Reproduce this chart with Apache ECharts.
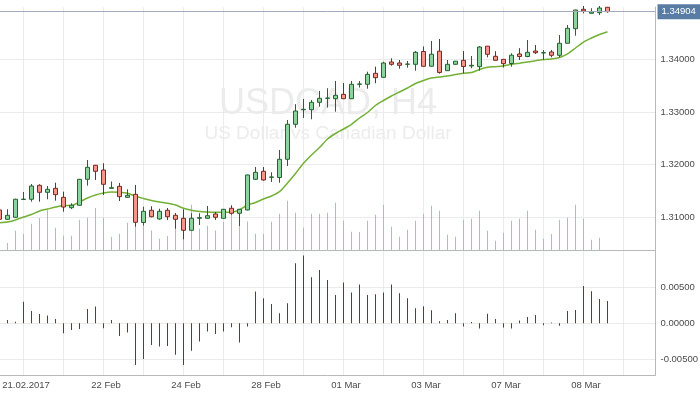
<!DOCTYPE html>
<html><head><meta charset="utf-8">
<script src="https://cdn.jsdelivr.net/npm/echarts@6/dist/echarts.min.js"></script>
<style>html,body{margin:0;padding:0;background:#fff}#c{width:700px;height:394px}</style>
</head><body><div id="c"></div>
<script>
// ---- data (USDCAD H4) ----
const opens = [1.31141,1.30964,1.31002,1.31340,1.31344,1.31609,1.31476,1.31552,1.31381,1.31184,
1.31230,1.31723,1.31989,1.31899,1.31552,1.31590,1.31381,1.31438,1.30904,1.31135,
1.30970,1.31135,1.31040,1.30983,1.30755,1.30983,1.30983,1.31065,1.30983,1.31173,
1.31078,1.31141,1.31723,1.31875,1.31761,1.31757,1.32103,1.32767,1.33044,1.33044,
1.33184,1.33260,1.33252,1.33336,1.33252,1.33526,1.33526,1.33734,1.33658,1.33949,
1.33930,1.33905,1.33905,1.34148,1.33869,1.34154,1.33784,1.33905,1.33981,1.33873,
1.33860,1.34249,1.34057,1.34000,1.33920,1.34101,1.34053,1.34157,1.34120,1.34139,
1.34076,1.34304,1.34581,1.34949,1.34873,1.34884,1.34987];
const closes = [1.30964,1.31040,1.31344,1.31346,1.31596,1.31476,1.31533,1.31431,1.31197,1.31230,
1.31723,1.31951,1.31875,1.31628,1.31564,1.31393,1.31419,1.30907,1.31116,1.31013,
1.31116,1.31013,1.30964,1.30755,1.30983,1.30995,1.31032,1.31002,1.31154,1.31078,
1.31154,1.31805,1.31856,1.31710,1.31767,1.32103,1.32767,1.33019,1.33051,1.33184,
1.33260,1.33265,1.33317,1.33252,1.33526,1.33532,1.33715,1.33651,1.33930,1.33905,
1.33886,1.33910,1.34133,1.33867,1.34097,1.33750,1.33905,1.33964,1.33863,1.33886,
1.34233,1.34095,1.33981,1.33917,1.34078,1.34053,1.34133,1.34125,1.34125,1.34076,
1.34304,1.34588,1.34935,1.34917,1.34898,1.34973,1.34904];
const highs = [1.31150,1.31154,1.31355,1.31482,1.31634,1.31628,1.31596,1.31658,1.31488,1.31268,
1.31729,1.32089,1.31995,1.32027,1.31681,1.31653,1.31533,1.31615,1.31203,1.31211,
1.31165,1.31178,1.31084,1.31154,1.31078,1.31078,1.31216,1.31102,1.31160,1.31230,
1.31160,1.31810,1.31956,1.31956,1.31856,1.32279,1.32848,1.33148,1.33247,1.33228,
1.33399,1.33450,1.33588,1.33550,1.33588,1.33588,1.33765,1.33860,1.33954,1.34019,
1.33987,1.33968,1.34157,1.34243,1.34347,1.34385,1.33987,1.33968,1.34157,1.34063,
1.34252,1.34252,1.34154,1.34004,1.34114,1.34211,1.34366,1.34271,1.34176,1.34176,
1.34461,1.34651,1.34940,1.35011,1.34968,1.35011,1.34990];
const lows = [1.30955,1.30960,1.30994,1.31338,1.31298,1.31298,1.31344,1.31317,1.31108,1.31159,
1.31226,1.31602,1.31710,1.31425,1.31550,1.31311,1.31368,1.30824,1.30846,1.31002,
1.30956,1.30951,1.30786,1.30585,1.30755,1.30856,1.30976,1.30951,1.30978,1.31051,
1.30837,1.31135,1.31718,1.31696,1.31672,1.31658,1.31975,1.32702,1.32886,1.32862,
1.33101,1.33082,1.33006,1.33246,1.33246,1.33465,1.33442,1.33545,1.33650,1.33879,
1.33822,1.33841,1.33784,1.33860,1.33862,1.33727,1.33780,1.33900,1.33734,1.33831,
1.33784,1.34038,1.33975,1.33844,1.33860,1.33987,1.34040,1.34101,1.33987,1.34038,
1.34038,1.34300,1.34448,1.34873,1.34873,1.34841,1.34884];
const movingAvg = [1.30898,1.30913,1.30951,1.31008,1.31055,1.31122,1.31159,1.31197,1.31226,1.31226,
1.31292,1.31368,1.31425,1.31463,1.31482,1.31478,1.31457,1.31400,1.31359,1.31321,
1.31292,1.31268,1.31235,1.31173,1.31135,1.31112,1.31102,1.31097,1.31097,1.31099,
1.31141,1.31235,1.31283,1.31349,1.31406,1.31488,1.31653,1.31833,1.32027,1.32184,
1.32326,1.32488,1.32592,1.32677,1.32767,1.32886,1.32991,1.33123,1.33218,1.33304,
1.33380,1.33455,1.33541,1.33598,1.33645,1.33664,1.33683,1.33712,1.33736,1.33748,
1.33806,1.33848,1.33860,1.33873,1.33905,1.33926,1.33949,1.33972,1.33996,1.34006,
1.34034,1.34101,1.34214,1.34328,1.34404,1.34471,1.34524];
const volumes = [0,700,1930,1630,2630,3200,4030,2230,1430,1430,
3030,3230,4200,3230,1300,1630,2730,3400,3200,1960,
1130,1400,2200,3230,4530,2130,2430,1960,2830,3630,
3330,2860,1630,1630,2830,3630,4930,3730,2230,3630,
3630,3730,4730,2930,1830,1800,2930,3530,4530,2330,
1330,2030,2930,3630,4430,3930,1530,1330,3030,3130,
3930,1930,930,1730,2930,3130,3930,2030,1130,1600,
3030,3230,4530,3130,1030,1230,0];
const oscillator = [null,0.00045,0.00023,0.00298,0.00169,0.00128,0.00106,0.00059,-0.00138,-0.00092,
-0.00078,0.00197,0.00230,-0.00069,0.00045,-0.00175,-0.00128,-0.00574,-0.00491,-0.00298,
-0.00320,-0.00312,-0.00431,-0.00574,-0.00376,-0.00252,-0.00114,-0.00147,-0.00114,-0.00055,
-0.00265,-0.00045,0.00436,0.00344,0.00265,0.00138,0.00275,0.00825,0.00931,0.00633,
0.00733,0.00596,0.00389,0.00560,0.00422,0.00532,0.00389,0.00399,0.00422,0.00532,
0.00413,0.00344,0.00206,0.00234,0.00179,0.00028,0.00045,0.00138,-0.00045,0.00018,
-0.00073,0.00133,0.00059,-0.00059,-0.00073,0.00037,0.00087,0.00114,-0.00028,0.00010,
-0.00032,0.00169,0.00183,0.00513,0.00440,0.00334,0.00307];
const tickLabels = ['21.02.2017','22 Feb','24 Feb','28 Feb','01 Mar','03 Mar','07 Mar','08 Mar'];
const tickIndex = [3,13,23,33,43,53,63,73];
const totalSlots = 83;

// ---- chart ----
const chart = echarts.init(document.getElementById('c'), null, {renderer:'canvas'});
const cats = Array.from({length: totalSlots}, (_, i) => String(i));
const ohlc = opens.map((o, i) => [o, closes[i], lows[i], highs[i]]);
const lastPrice = closes[closes.length - 1];
const gridFn = (i) => i >= 3 && (i - 3) % 5 === 0;
const labelFn = (i) => tickIndex.indexOf(i) >= 0;
const FONT = '"Liberation Sans", Arial, sans-serif';
const GRID = '#ebebeb', AXIS = '#b8b8b8', TXT = '#4a4a4a';
const fmt = (v) => Number(v).toFixed(5);

const option = {
  animation: false,
  backgroundColor: '#ffffff',
  graphic: [
    {type:'text', x:328, y:104, z:-10, silent:true,
     style:{text:'USDCAD, H4', fontSize:36, fontFamily:FONT, fill:'#ececec', align:'center', verticalAlign:'middle'}},
    {type:'text', x:328, y:134, z:-10, silent:true,
     style:{text:'US Dollar vs Canadian Dollar', fontSize:19, fontFamily:FONT, fill:'#ececec', align:'center', verticalAlign:'middle'}}
  ],
  grid: [
    {left:-0.5, right:44.5, top:7, bottom:144, outerBoundsMode:'none', containLabel:false},
    {left:-0.5, right:44.5, top:251, bottom:19, outerBoundsMode:'none', containLabel:false}
  ],
  xAxis: [
    {type:'category', gridIndex:0, data:cats, boundaryGap:false,
     axisLine:{show:true, onZero:false, lineStyle:{color:AXIS}}, axisTick:{show:false}, axisLabel:{show:false},
     splitLine:{show:true, interval:gridFn, lineStyle:{color:GRID, width:1}}},
    {type:'category', gridIndex:1, data:cats, boundaryGap:false,
     axisLine:{show:true, onZero:false, lineStyle:{color:AXIS}}, axisTick:{show:false},
     axisLabel:{show:true, interval:labelFn, margin:5, padding:[0,0,0,5], color:TXT, fontSize:9.5, fontFamily:FONT,
       formatter:(v, i) => { const k = tickIndex.indexOf(Number(v)); return k >= 0 ? tickLabels[k] : ''; }},
     splitLine:{show:true, interval:gridFn, lineStyle:{color:GRID, width:1}}}
  ],
  yAxis: [
    {type:'value', gridIndex:0, position:'right', min:1.303814, max:1.349924, splitNumber:5, scale:true,
     axisLine:{show:true, lineStyle:{color:AXIS}}, axisTick:{show:false},
     axisLabel:{show:true, margin:5, color:TXT, fontSize:9.5, fontFamily:FONT, formatter:fmt, showMinLabel:false, showMaxLabel:false},
     splitLine:{show:true, showMinLine:false, showMaxLine:false, lineStyle:{color:GRID, width:1}}},
    {type:'value', gridIndex:0, position:'left', min:0, max:24300, show:false, splitLine:{show:false}},
    {type:'value', gridIndex:1, position:'right', min:-0.007111, max:0.009945, splitNumber:3,
     axisLine:{show:true, lineStyle:{color:AXIS}}, axisTick:{show:false},
     axisLabel:{show:true, margin:5, color:TXT, fontSize:9.5, fontFamily:FONT, formatter:fmt, showMinLabel:false, showMaxLabel:false},
     splitLine:{show:true, showMinLine:false, showMaxLine:false, lineStyle:{color:GRID, width:1}}}
  ],
  series: [
    {type:'bar', name:'Volume', xAxisIndex:0, yAxisIndex:1, data:volumes, barWidth:1, z:1,
     itemStyle:{color:'#84c7f0'}, silent:true},
    {type:'line', name:'MA', xAxisIndex:0, yAxisIndex:0, data:movingAvg, symbol:'none', smooth:0.25, z:3,
     lineStyle:{color:'#72b036', width:1.5}, silent:true,
     markLine:{silent:true, symbol:['none','none'], precision:5,
       data:[{yAxis:lastPrice}],
       lineStyle:{color:'#a4acbc', width:1, type:'solid'},
       label:{show:true, position:'end', distance:2, formatter:fmt(lastPrice), color:'#ffffff',
         backgroundColor:'#587ca3', padding:[3,5,2,4], fontSize:9.5, fontFamily:FONT}}},
    {type:'candlestick', name:'USDCAD', xAxisIndex:0, yAxisIndex:0, data:ohlc, barWidth:5, clip:false, z:4,
     itemStyle:{color:'#8dd39d', color0:'#f6968a', borderColor:'#1e6630', borderColor0:'#7a2a24', borderWidth:1}},
    {type:'bar', name:'Oscillator', xAxisIndex:1, yAxisIndex:2, data:oscillator, barWidth:1, z:2,
     itemStyle:{color:'#7d2c2c'}, silent:true}
  ]
};
chart.setOption(option);
</script>
</body></html>
